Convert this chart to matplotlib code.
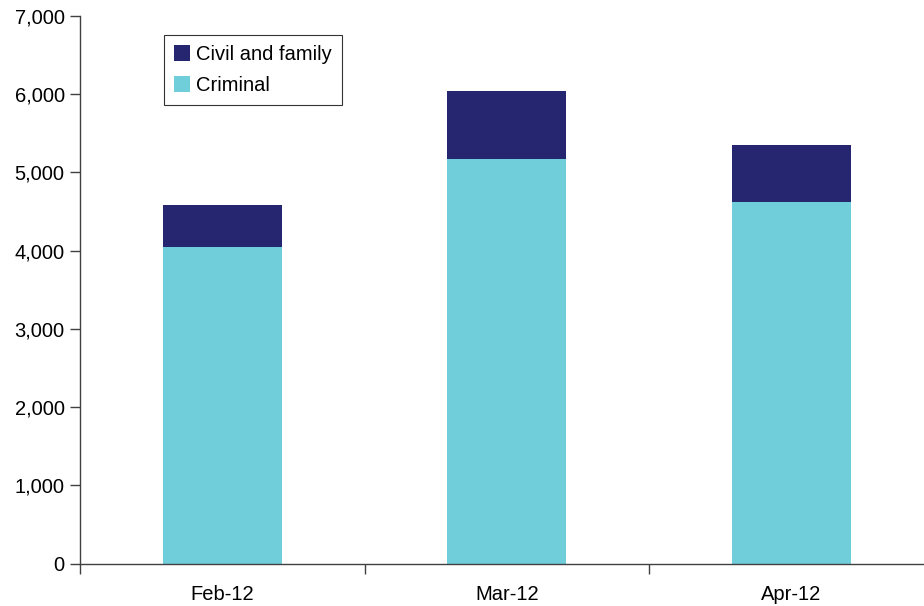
import matplotlib
matplotlib.use('Agg')
import matplotlib.pyplot as plt
import numpy as np

plt.rcParams['font.family'] = ['Liberation Sans', 'DejaVu Sans']

# monthly receipts by jurisdiction
months = ['Feb-12', 'Mar-12', 'Apr-12']
criminal = [4050, 5170, 4620]
civil_family = [540, 870, 730]

navy = '#262670'
cyan = '#70CDDA'

fig = plt.figure(figsize=(9.24, 6.06), dpi=100)
ax = fig.add_axes([80 / 924, 42.3 / 606, 844 / 924, 547.7 / 606])

x = np.arange(len(months))
w = 0.418
ax.bar(x, criminal, w, color=cyan, label='Criminal')
ax.bar(x, civil_family, w, bottom=criminal, color=navy, label='Civil and family')

ax.set_yticks(range(0, 7001, 1000))
ax.set_yticklabels(['{:,}'.format(v) for v in range(0, 7001, 1000)])

# category labels centred on bars, tick marks on the boundaries
ax.set_xticks(x)
ax.set_xticklabels(months)
ax.set_xticks([-0.5, 0.5, 1.5], minor=True)
ax.set_xlim(-0.5, 2.466)
ax.set_ylim(0, 7000)
ax.tick_params(axis='x', which='major', length=0, pad=15, labelsize=14.5, colors='black')
ax.tick_params(axis='x', which='minor', length=7, width=1, color='#404040', direction='out')
ax.tick_params(axis='y', length=7, width=1, color='#404040', labelsize=14.5, pad=4)

for s in ['top', 'right']:
    ax.spines[s].set_visible(False)
for s in ['left', 'bottom']:
    ax.spines[s].set_color('#404040')
    ax.spines[s].set_linewidth(1)

h, l = ax.get_legend_handles_labels()
leg = ax.legend(h[::-1], l[::-1], loc='upper left', bbox_to_anchor=(164 / 924, 1 - 35 / 606),
                bbox_transform=fig.transFigure, fontsize=14.5, frameon=True, fancybox=False,
                handlelength=0.8, handleheight=0.8, handletextpad=0.3, borderpad=0.5,
                labelspacing=0.6, borderaxespad=0)
leg.get_frame().set_edgecolor('black')
leg.get_frame().set_linewidth(0.8)

fig.savefig('out.png', dpi=100)
